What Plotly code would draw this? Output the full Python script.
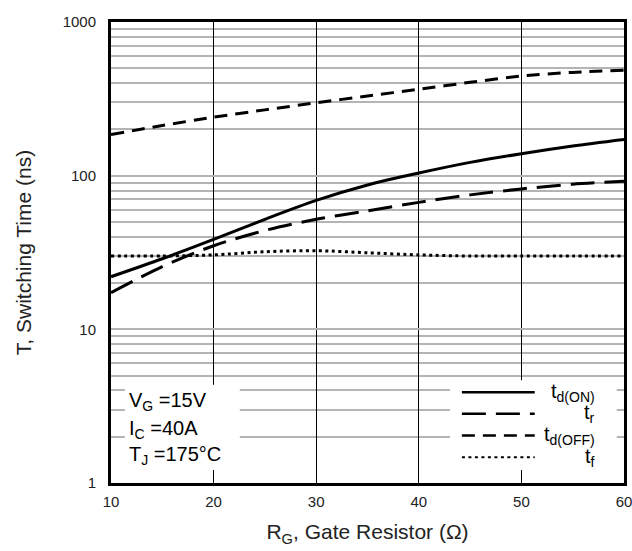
import plotly.graph_objects as go

rg = [10, 15, 20, 25, 30, 35, 40, 45, 50, 55, 60]
td_on = [22, 28.8, 38.5, 52, 69, 87, 104, 122, 139, 156, 172]
t_r = [17.3, 25.6, 35, 44, 52, 59, 67, 75, 82, 88, 92]
td_off = [185, 212, 240, 268, 298, 330, 365, 405, 445, 470, 485]
t_f = [30, 30, 30.5, 32, 32.5, 31.5, 30.5, 30, 30, 30, 30]

x_ticks = [10, 20, 30, 40, 50, 60]
y_decades = [1, 10, 100, 1000]
y_minor = [d * m for d in [1, 10, 100] for m in range(2, 10)]

series = [
    ("t<sub>d(ON)</sub>", td_on, "solid"),
    ("t<sub>r</sub>", t_r, "24px,10px"),
    ("t<sub>d(OFF)</sub>", td_off, "13px,8px"),
    ("t<sub>f</sub>", t_f, "3px,3.5px"),
]

FONT = "Arial, Liberation Sans, sans-serif"
fig = go.Figure()
for name, vals, dash in series:
    fig.add_trace(go.Scatter(x=rg, y=vals, mode="lines", name=name,
                             line=dict(color="black", width=3, dash=dash, shape="spline", smoothing=0.8),
                             showlegend=False))

fig.update_xaxes(range=[10, 60], tickvals=x_ticks, showgrid=True, gridcolor="black", gridwidth=1,
                 showline=True, linecolor="black", linewidth=3, mirror=True, ticks="",
                 ticklabelstandoff=3, automargin=False, ticklabeloverflow="allow",
                 tickfont=dict(family=FONT, size=15, color="#222"),
                 title=dict(text="R<sub>G</sub>, Gate Resistor (Ω)", font=dict(family=FONT, size=21, color="#222"), standoff=16),
                 zeroline=False)
fig.update_yaxes(type="log", range=[0, 3], tickvals=y_decades, showgrid=True,
                 gridcolor="#b4b4b4", gridwidth=1.5,
                 minor=dict(tickvals=y_minor, showgrid=True, gridcolor="#b4b4b4", gridwidth=1.5, ticks=""),
                 showline=True, linecolor="black", linewidth=3, mirror=True, ticks="",
                 ticklabelstandoff=9, automargin=False, ticklabeloverflow="allow",
                 tickfont=dict(family=FONT, size=15, color="#222"),
                 title=dict(text="T, Switching Time (ns)", font=dict(family=FONT, size=21, color="#222"), standoff=26),
                 zeroline=False)

shapes = []
annotations = []
# condition box
shapes.append(dict(type="rect", xref="paper", yref="paper", x0=0.027, x1=0.251, y0=0.028, y1=0.213,
                   fillcolor="white", line=dict(width=0), layer="above"))
cond = ["V<sub>G</sub> =15V", "I<sub>C</sub> =40A", "T<sub>J</sub> =175°C"]
cond_y = [0.176, 0.115, 0.059]
for t, yy in zip(cond, cond_y):
    annotations.append(dict(text=t, xref="paper", yref="paper", x=0.031, y=yy,
                            xanchor="left", yanchor="middle", showarrow=False,
                            font=dict(family=FONT, size=20, color="black")))
# legend box
shapes.append(dict(type="rect", xref="paper", yref="paper", x0=0.661, x1=0.986, y0=0.028, y1=0.223,
                   fillcolor="white", line=dict(width=0), layer="above"))
leg_y = [0.197, 0.150, 0.103, 0.056]
for (name, vals, dash), yy in zip(series, leg_y):
    shapes.append(dict(type="line", xref="paper", yref="paper", x0=0.684, x1=0.826, y0=yy, y1=yy,
                       layer="above",
                       line=dict(color="black", width=2.5 if dash != "3px,3.5px" else 2, dash=dash)))
    annotations.append(dict(text=name, xref="paper", yref="paper", x=0.947, y=yy,
                            xanchor="right", yanchor="middle", showarrow=False,
                            font=dict(family=FONT, size=20, color="black")))

fig.update_layout(width=632, height=551, margin=dict(l=111, r=8, t=22, b=68),
                  plot_bgcolor="white", paper_bgcolor="white",
                  shapes=shapes, annotations=annotations, showlegend=False)
fig.write_html("out.html", config={"displayModeBar": False},
               post_script="document.body.style.margin='0';document.body.style.overflow='hidden';")
